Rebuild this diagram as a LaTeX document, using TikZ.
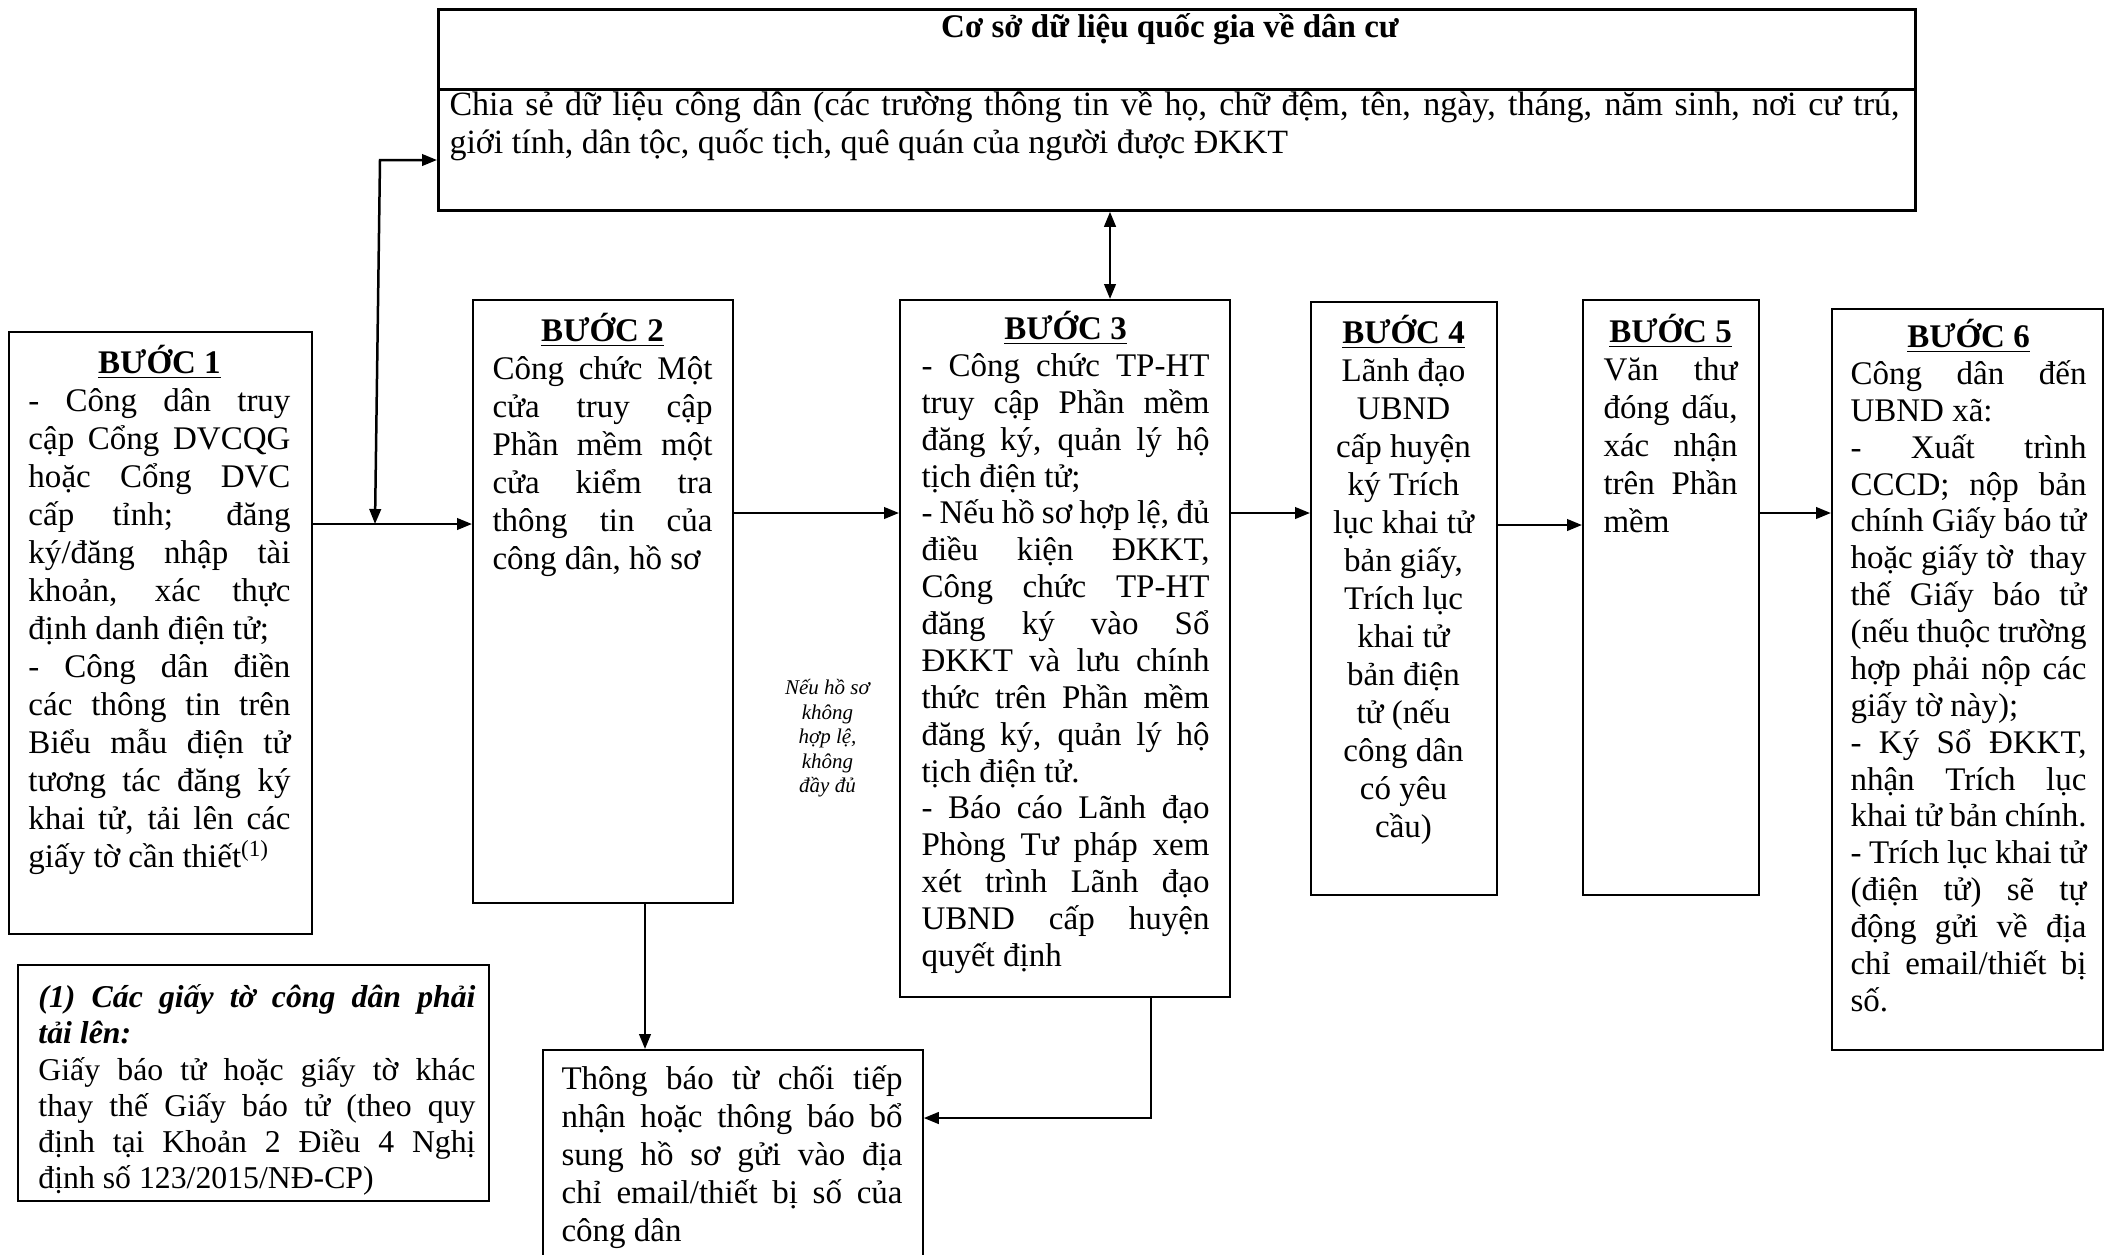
\documentclass[tikz,border=0pt]{standalone}
\usepackage{fontspec}
\setmainfont{Liberation Serif}
\usetikzlibrary{arrows.meta}

% one drawing unit
\newdimen\pxu \pxu=0.4pt
% a justified line, a centred underlined heading
\newcommand\jl[1]{\makebox[\linewidth][s]{#1}}
\newcommand\hd[1]{\makebox[\linewidth]{\underline{\textbf{#1}}}}
% text block: width, font setup, lines (first baseline 34 units below the top)
\newcommand\txtblock[3]{\parbox[t]{#1\pxu}{#2\lineskiplimit=-\maxdimen\rule{0pt}{34\pxu}#3}}
\newcommand\bodyfont{\fontsize{13.2pt}{15.2pt}\selectfont}
\newcommand\widefont{\fontsize{13.6pt}{15.2pt}\selectfont}
\newcommand\densefont{\fontsize{13.2pt}{14.75pt}\selectfont}
\newcommand\notefont{\fontsize{12.7pt}{14.5pt}\selectfont}
\newcommand\smallfont{\fontsize{8.4pt}{9.8pt}\selectfont\itshape}

\tikzset{
  stepbox/.style={draw, line width=0.7pt, anchor=north west, inner sep=0pt},
  dbbox/.style={draw, line width=1.1pt, anchor=north west, inner sep=0pt},
  textblock/.style={anchor=north west, inner sep=0pt},
  flow/.style={line width=1pt, -{Triangle[length=6pt,width=4.6pt]}},
  twoway/.style={line width=1pt, {Triangle[length=6pt,width=4.6pt]}-{Triangle[length=6pt,width=4.6pt]}},
}

\begin{document}
\begin{tikzpicture}[x=0.4pt, y=-0.4pt]
\useasboundingbox (0,0) rectangle (2111,1254);
\clip (0,0) rectangle (2111,1254);

% national population database
\node[dbbox, minimum width=1477*\pxu, minimum height=80*\pxu] (dbt) at (437,8) {};
\node[dbbox, minimum width=1477*\pxu, minimum height=121*\pxu] (db) at (437,88) {};
\node[anchor=base, inner sep=0pt, font=\bodyfont\bfseries] (dbtitle) at (1170,37) {Cơ sở dữ liệu quốc gia về dân cư};
\node[textblock] (dbtext) at (449,81) {\txtblock{1450}{\widefont}{%
\jl{Chia sẻ dữ liệu công dân (các trường thông tin về họ, chữ đệm, tên, ngày, tháng, năm sinh, nơi cư trú,}\\
giới tính, dân tộc, quốc tịch, quê quán của người được ĐKKT}};

% step 1
\node[stepbox, minimum width=303*\pxu, minimum height=602*\pxu] (b1) at (8,331) {};
\node[textblock] (b1t) at (28,339) {\txtblock{262}{\bodyfont}{%
\hd{BƯỚC 1}\\
\jl{- Công dân truy}\\
\jl{cập Cổng DVCQG}\\
\jl{hoặc Cổng DVC}\\
\jl{cấp tỉnh; đăng}\\
\jl{ký/đăng nhập tài}\\
\jl{khoản, xác thực}\\
định danh điện tử;\\
\jl{- Công dân điền}\\
\jl{các thông tin trên}\\
\jl{Biểu mẫu điện tử}\\
\jl{tương tác đăng ký}\\
\jl{khai tử, tải lên các}\\
giấy tờ cần thiết\textsuperscript{(1)}}};

% step 2
\node[stepbox, minimum width=260*\pxu, minimum height=603*\pxu] (b2) at (472,299) {};
\node[textblock] (b2t) at (492,307) {\txtblock{220}{\bodyfont}{%
\hd{BƯỚC 2}\\
\jl{Công chức Một}\\
\jl{cửa truy cập}\\
\jl{Phần mềm một}\\
\jl{cửa kiểm tra}\\
\jl{thông tin của}\\
công dân, hồ sơ}};

% step 3
\node[stepbox, minimum width=330*\pxu, minimum height=697*\pxu] (b3) at (899,299) {};
\node[textblock] (b3t) at (921,305) {\txtblock{288}{\densefont}{%
\hd{BƯỚC 3}\\
\jl{- Công chức TP-HT}\\
\jl{truy cập Phần mềm}\\
\jl{đăng ký, quản lý hộ}\\
tịch điện tử;\\
\jl{- Nếu hồ sơ hợp lệ, đủ}\\
\jl{điều kiện ĐKKT,}\\
\jl{Công chức TP-HT}\\
\jl{đăng ký vào Sổ}\\
\jl{ĐKKT và lưu chính}\\
\jl{thức trên Phần mềm}\\
\jl{đăng ký, quản lý hộ}\\
tịch điện tử.\\
\jl{- Báo cáo Lãnh đạo}\\
\jl{Phòng Tư pháp xem}\\
\jl{xét trình Lãnh đạo}\\
\jl{UBND cấp huyện}\\
quyết định}};

% step 4
\node[stepbox, minimum width=186*\pxu, minimum height=593*\pxu] (b4) at (1310,301) {};
\node[textblock] (b4t) at (1313,309) {\txtblock{180}{\bodyfont\centering}{%
\underline{\textbf{BƯỚC 4}}\\
Lãnh đạo\\ UBND\\ cấp huyện\\ ký Trích\\ lục khai tử\\ bản giấy,\\ Trích lục\\
khai tử\\ bản điện\\ tử (nếu\\ công dân\\ có yêu\\ cầu)}};

% step 5
\node[stepbox, minimum width=176*\pxu, minimum height=595*\pxu] (b5) at (1582,299) {};
\node[textblock] (b5t) at (1603,308) {\txtblock{134}{\bodyfont}{%
\hd{BƯỚC 5}\\
\jl{Văn thư}\\
\jl{đóng dấu,}\\
\jl{xác nhận}\\
\jl{trên Phần}\\
mềm}};

% step 6
\node[stepbox, minimum width=271*\pxu, minimum height=741*\pxu] (b6) at (1831,308) {};
\node[textblock] (b6t) at (1850,313) {\txtblock{236}{\densefont}{%
\hd{BƯỚC 6}\\
\jl{Công dân đến}\\
UBND xã:\\
\jl{- Xuất trình}\\
\jl{CCCD; nộp bản}\\
\jl{chính Giấy báo tử}\\
\jl{hoặc giấy tờ \ thay}\\
\jl{thế Giấy báo tử}\\
\jl{(nếu thuộc trường}\\
\jl{hợp phải nộp các}\\
giấy tờ này);\\
\jl{- Ký Sổ ĐKKT,}\\
\jl{nhận Trích lục}\\
khai tử bản chính.\\
\jl{- Trích lục khai tử}\\
\jl{(điện tử) sẽ tự}\\
\jl{động gửi về địa}\\
\jl{chỉ email/thiết bị}\\
số.}};

% footnote on the uploaded papers
\node[stepbox, minimum width=471*\pxu, minimum height=236*\pxu] (fn) at (17,964) {};
\node[textblock] (fnt) at (38,973) {\txtblock{437}{\notefont}{%
\jl{\bfseries\itshape (1) Các giấy tờ công dân phải}\\
{\bfseries\itshape tải lên:}\\
\jl{Giấy báo tử hoặc giấy tờ khác}\\
\jl{thay thế Giấy báo tử (theo quy}\\
\jl{định tại Khoản 2 Điều 4 Nghị}\\
định số 123/2015/NĐ-CP)}};

% refusal / supplement notice
\node[stepbox, minimum width=380*\pxu, minimum height=300*\pxu] (nb) at (542,1049) {};
\node[textblock] (nbt) at (561,1055) {\txtblock{341}{\bodyfont}{%
\jl{Thông báo từ chối tiếp}\\
\jl{nhận hoặc thông báo bổ}\\
\jl{sung hồ sơ gửi vào địa}\\
\jl{chỉ email/thiết bị số của}\\
công dân}};

% condition label
\node[textblock] (cond) at (777,660) {\txtblock{100}{\smallfont\centering}{%
Nếu hồ sơ\\ không\\ hợp lệ,\\ không\\ đầy đủ}};

% connectors
\coordinate (r1) at (0,524);
\coordinate (r2) at (0,513);
\coordinate (r4) at (0,525);
\coordinate (j1) at (375,524);
\coordinate (j2) at (380,160);
\coordinate (c3) at (1110,0);
\coordinate (c2) at (645,0);
\coordinate (c5) at (1151,0);
\coordinate (r6) at (0,1118);

\draw[flow] (b1.east |- r1) -- (b2.west |- r1);
\draw[twoway] (j1) -- (j2) -- (j2 -| db.west);
\draw[flow] (b2.east |- r2) -- (b3.west |- r2);
\draw[flow] (b3.east |- r2) -- (b4.west |- r2);
\draw[flow] (b4.east |- r4) -- (b5.west |- r4);
\draw[flow] (b5.east |- r2) -- (b6.west |- r2);
\draw[twoway] (db.south -| c3) -- (b3.north -| c3);
\draw[flow] (b2.south -| c2) -- (nb.north -| c2);
\draw[flow] (b3.south -| c5) -- (c5 |- r6) -- (nb.east |- r6);
\end{tikzpicture}
\end{document}
